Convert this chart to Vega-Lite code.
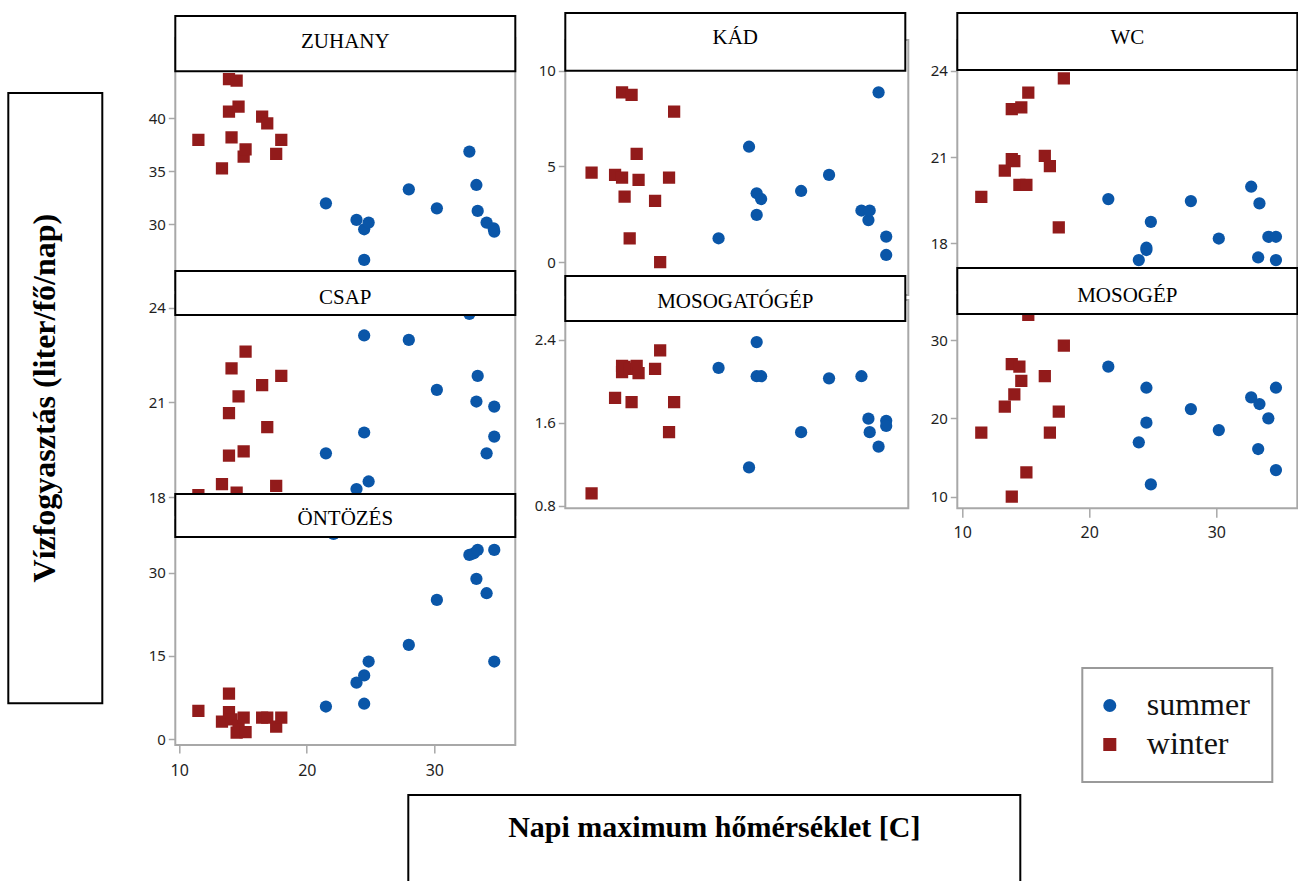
{
  "$schema": "https://vega.github.io/schema/vega-lite/v6.json",
  "background": "white",
  "padding": {"left": 7.3, "top": 12, "right": 0, "bottom": 0},
  "bounds": "flush",
  "spacing": 0,
  "datasets": {
    "pts": [
      {"panel":"ZUHANY","season":"winter","temp":11.5,"value":37.96},
      {"panel":"ZUHANY","season":"winter","temp":13.35,"value":35.28},
      {"panel":"ZUHANY","season":"winter","temp":13.9,"value":43.71},
      {"panel":"ZUHANY","season":"winter","temp":13.9,"value":40.63},
      {"panel":"ZUHANY","season":"winter","temp":14.1,"value":38.21},
      {"panel":"ZUHANY","season":"winter","temp":14.5,"value":43.55},
      {"panel":"ZUHANY","season":"winter","temp":14.65,"value":41.1},
      {"panel":"ZUHANY","season":"winter","temp":15.05,"value":36.38},
      {"panel":"ZUHANY","season":"winter","temp":15.2,"value":37.08},
      {"panel":"ZUHANY","season":"winter","temp":16.5,"value":40.16},
      {"panel":"ZUHANY","season":"winter","temp":16.9,"value":39.53},
      {"panel":"ZUHANY","season":"winter","temp":17.6,"value":36.64},
      {"panel":"ZUHANY","season":"winter","temp":18.0,"value":37.96},
      {"panel":"ZUHANY","season":"summer","temp":21.5,"value":31.98},
      {"panel":"ZUHANY","season":"summer","temp":23.9,"value":30.41},
      {"panel":"ZUHANY","season":"summer","temp":24.5,"value":29.53},
      {"panel":"ZUHANY","season":"summer","temp":24.5,"value":26.64},
      {"panel":"ZUHANY","season":"summer","temp":24.85,"value":30.16},
      {"panel":"ZUHANY","season":"summer","temp":28.0,"value":33.3},
      {"panel":"ZUHANY","season":"summer","temp":30.2,"value":31.51},
      {"panel":"ZUHANY","season":"summer","temp":32.75,"value":36.86},
      {"panel":"ZUHANY","season":"summer","temp":33.3,"value":33.71},
      {"panel":"ZUHANY","season":"summer","temp":33.4,"value":31.26},
      {"panel":"ZUHANY","season":"summer","temp":34.1,"value":30.16},
      {"panel":"ZUHANY","season":"summer","temp":34.65,"value":29.62},
      {"panel":"ZUHANY","season":"summer","temp":34.7,"value":29.31},

      {"panel":"KÁD","season":"winter","temp":11.5,"value":4.68},
      {"panel":"KÁD","season":"winter","temp":13.35,"value":4.56},
      {"panel":"KÁD","season":"winter","temp":13.9,"value":8.87},
      {"panel":"KÁD","season":"winter","temp":13.9,"value":4.42},
      {"panel":"KÁD","season":"winter","temp":14.1,"value":3.43},
      {"panel":"KÁD","season":"winter","temp":14.5,"value":1.25},
      {"panel":"KÁD","season":"winter","temp":14.65,"value":8.73},
      {"panel":"KÁD","season":"winter","temp":15.05,"value":5.65},
      {"panel":"KÁD","season":"winter","temp":15.2,"value":4.3},
      {"panel":"KÁD","season":"winter","temp":16.5,"value":3.2},
      {"panel":"KÁD","season":"winter","temp":16.9,"value":0.0},
      {"panel":"KÁD","season":"winter","temp":17.6,"value":4.42},
      {"panel":"KÁD","season":"winter","temp":18.0,"value":7.86},
      {"panel":"KÁD","season":"summer","temp":21.5,"value":1.25},
      {"panel":"KÁD","season":"summer","temp":23.9,"value":6.03},
      {"panel":"KÁD","season":"summer","temp":24.5,"value":3.6},
      {"panel":"KÁD","season":"summer","temp":24.5,"value":2.47},
      {"panel":"KÁD","season":"summer","temp":24.85,"value":3.3},
      {"panel":"KÁD","season":"summer","temp":28.0,"value":3.72},
      {"panel":"KÁD","season":"summer","temp":30.2,"value":4.56},
      {"panel":"KÁD","season":"summer","temp":32.75,"value":2.7},
      {"panel":"KÁD","season":"summer","temp":33.3,"value":2.2},
      {"panel":"KÁD","season":"summer","temp":33.4,"value":2.7},
      {"panel":"KÁD","season":"summer","temp":34.1,"value":8.87},
      {"panel":"KÁD","season":"summer","temp":34.7,"value":1.34},
      {"panel":"KÁD","season":"summer","temp":34.7,"value":0.38},

      {"panel":"WC","season":"winter","temp":11.5,"value":19.62},
      {"panel":"WC","season":"winter","temp":13.35,"value":20.53},
      {"panel":"WC","season":"winter","temp":13.9,"value":22.67},
      {"panel":"WC","season":"winter","temp":13.9,"value":20.93},
      {"panel":"WC","season":"winter","temp":14.1,"value":20.86},
      {"panel":"WC","season":"winter","temp":14.5,"value":20.03},
      {"panel":"WC","season":"winter","temp":14.65,"value":22.73},
      {"panel":"WC","season":"winter","temp":15.05,"value":20.03},
      {"panel":"WC","season":"winter","temp":15.2,"value":23.24},
      {"panel":"WC","season":"winter","temp":16.5,"value":21.04},
      {"panel":"WC","season":"winter","temp":16.9,"value":20.69},
      {"panel":"WC","season":"winter","temp":17.6,"value":18.56},
      {"panel":"WC","season":"winter","temp":18.0,"value":23.74},
      {"panel":"WC","season":"summer","temp":21.5,"value":19.54},
      {"panel":"WC","season":"summer","temp":23.9,"value":17.42},
      {"panel":"WC","season":"summer","temp":24.5,"value":17.77},
      {"panel":"WC","season":"summer","temp":24.5,"value":17.85},
      {"panel":"WC","season":"summer","temp":24.85,"value":18.75},
      {"panel":"WC","season":"summer","temp":28.0,"value":19.47},
      {"panel":"WC","season":"summer","temp":30.2,"value":18.17},
      {"panel":"WC","season":"summer","temp":32.75,"value":19.97},
      {"panel":"WC","season":"summer","temp":33.3,"value":17.51},
      {"panel":"WC","season":"summer","temp":33.4,"value":19.39},
      {"panel":"WC","season":"summer","temp":34.1,"value":18.23},
      {"panel":"WC","season":"summer","temp":34.7,"value":18.23},
      {"panel":"WC","season":"summer","temp":34.7,"value":17.42},

      {"panel":"CSAP","season":"winter","temp":11.5,"value":18.07},
      {"panel":"CSAP","season":"winter","temp":13.35,"value":18.42},
      {"panel":"CSAP","season":"winter","temp":13.9,"value":19.32},
      {"panel":"CSAP","season":"winter","temp":13.9,"value":20.66},
      {"panel":"CSAP","season":"winter","temp":14.1,"value":22.08},
      {"panel":"CSAP","season":"winter","temp":14.5,"value":18.15},
      {"panel":"CSAP","season":"winter","temp":14.65,"value":21.19},
      {"panel":"CSAP","season":"winter","temp":15.05,"value":19.45},
      {"panel":"CSAP","season":"winter","temp":15.2,"value":22.61},
      {"panel":"CSAP","season":"winter","temp":16.5,"value":21.55},
      {"panel":"CSAP","season":"winter","temp":16.9,"value":20.22},
      {"panel":"CSAP","season":"winter","temp":17.6,"value":18.36},
      {"panel":"CSAP","season":"winter","temp":18.0,"value":21.84},
      {"panel":"CSAP","season":"summer","temp":21.5,"value":19.39},
      {"panel":"CSAP","season":"summer","temp":23.9,"value":18.26},
      {"panel":"CSAP","season":"summer","temp":24.5,"value":23.12},
      {"panel":"CSAP","season":"summer","temp":24.5,"value":20.05},
      {"panel":"CSAP","season":"summer","temp":24.85,"value":18.5},
      {"panel":"CSAP","season":"summer","temp":28.0,"value":22.98},
      {"panel":"CSAP","season":"summer","temp":30.2,"value":21.4},
      {"panel":"CSAP","season":"summer","temp":32.75,"value":23.8},
      {"panel":"CSAP","season":"summer","temp":33.3,"value":21.03},
      {"panel":"CSAP","season":"summer","temp":33.4,"value":21.84},
      {"panel":"CSAP","season":"summer","temp":34.1,"value":19.39},
      {"panel":"CSAP","season":"summer","temp":34.7,"value":20.87},
      {"panel":"CSAP","season":"summer","temp":34.7,"value":19.92},

      {"panel":"MOSOGATÓGÉP","season":"winter","temp":11.5,"value":0.92},
      {"panel":"MOSOGATÓGÉP","season":"winter","temp":13.35,"value":1.84},
      {"panel":"MOSOGATÓGÉP","season":"winter","temp":13.9,"value":2.09},
      {"panel":"MOSOGATÓGÉP","season":"winter","temp":13.9,"value":2.15},
      {"panel":"MOSOGATÓGÉP","season":"winter","temp":14.1,"value":2.14},
      {"panel":"MOSOGATÓGÉP","season":"winter","temp":14.5,"value":2.12},
      {"panel":"MOSOGATÓGÉP","season":"winter","temp":14.65,"value":1.8},
      {"panel":"MOSOGATÓGÉP","season":"winter","temp":15.05,"value":2.15},
      {"panel":"MOSOGATÓGÉP","season":"winter","temp":15.2,"value":2.08},
      {"panel":"MOSOGATÓGÉP","season":"winter","temp":16.5,"value":2.12},
      {"panel":"MOSOGATÓGÉP","season":"winter","temp":16.9,"value":2.3},
      {"panel":"MOSOGATÓGÉP","season":"winter","temp":17.6,"value":1.51},
      {"panel":"MOSOGATÓGÉP","season":"winter","temp":18.0,"value":1.8},
      {"panel":"MOSOGATÓGÉP","season":"summer","temp":21.5,"value":2.13},
      {"panel":"MOSOGATÓGÉP","season":"summer","temp":23.9,"value":1.17},
      {"panel":"MOSOGATÓGÉP","season":"summer","temp":24.5,"value":2.38},
      {"panel":"MOSOGATÓGÉP","season":"summer","temp":24.5,"value":2.05},
      {"panel":"MOSOGATÓGÉP","season":"summer","temp":24.85,"value":2.05},
      {"panel":"MOSOGATÓGÉP","season":"summer","temp":28.0,"value":1.51},
      {"panel":"MOSOGATÓGÉP","season":"summer","temp":30.2,"value":2.03},
      {"panel":"MOSOGATÓGÉP","season":"summer","temp":32.75,"value":2.05},
      {"panel":"MOSOGATÓGÉP","season":"summer","temp":33.3,"value":1.64},
      {"panel":"MOSOGATÓGÉP","season":"summer","temp":33.4,"value":1.51},
      {"panel":"MOSOGATÓGÉP","season":"summer","temp":34.1,"value":1.37},
      {"panel":"MOSOGATÓGÉP","season":"summer","temp":34.7,"value":1.62},
      {"panel":"MOSOGATÓGÉP","season":"summer","temp":34.7,"value":1.57},

      {"panel":"MOSOGÉP","season":"winter","temp":11.5,"value":18.17},
      {"panel":"MOSOGÉP","season":"winter","temp":13.35,"value":21.49},
      {"panel":"MOSOGÉP","season":"winter","temp":13.9,"value":26.94},
      {"panel":"MOSOGÉP","season":"winter","temp":13.9,"value":10.0},
      {"panel":"MOSOGÉP","season":"winter","temp":14.1,"value":23.06},
      {"panel":"MOSOGÉP","season":"winter","temp":14.5,"value":26.6},
      {"panel":"MOSOGÉP","season":"winter","temp":14.65,"value":24.8},
      {"panel":"MOSOGÉP","season":"winter","temp":15.05,"value":13.1},
      {"panel":"MOSOGÉP","season":"winter","temp":15.2,"value":33.2},
      {"panel":"MOSOGÉP","season":"winter","temp":16.5,"value":25.4},
      {"panel":"MOSOGÉP","season":"winter","temp":16.9,"value":18.17},
      {"panel":"MOSOGÉP","season":"winter","temp":17.6,"value":20.85},
      {"panel":"MOSOGÉP","season":"winter","temp":18.0,"value":29.28},
      {"panel":"MOSOGÉP","season":"summer","temp":21.5,"value":26.6},
      {"panel":"MOSOGÉP","season":"summer","temp":23.9,"value":16.94},
      {"panel":"MOSOGÉP","season":"summer","temp":24.5,"value":23.91},
      {"panel":"MOSOGÉP","season":"summer","temp":24.5,"value":19.45},
      {"panel":"MOSOGÉP","season":"summer","temp":24.85,"value":11.57},
      {"panel":"MOSOGÉP","season":"summer","temp":28.0,"value":21.19},
      {"panel":"MOSOGÉP","season":"summer","temp":30.2,"value":18.51},
      {"panel":"MOSOGÉP","season":"summer","temp":32.75,"value":22.68},
      {"panel":"MOSOGÉP","season":"summer","temp":33.3,"value":16.09},
      {"panel":"MOSOGÉP","season":"summer","temp":33.4,"value":21.83},
      {"panel":"MOSOGÉP","season":"summer","temp":34.1,"value":20.0},
      {"panel":"MOSOGÉP","season":"summer","temp":34.7,"value":23.91},
      {"panel":"MOSOGÉP","season":"summer","temp":34.7,"value":13.4},

      {"panel":"ÖNTÖZÉS","season":"winter","temp":11.5,"value":5.1},
      {"panel":"ÖNTÖZÉS","season":"winter","temp":13.35,"value":3.2},
      {"panel":"ÖNTÖZÉS","season":"winter","temp":13.9,"value":8.2},
      {"panel":"ÖNTÖZÉS","season":"winter","temp":13.9,"value":4.9},
      {"panel":"ÖNTÖZÉS","season":"winter","temp":14.1,"value":3.6},
      {"panel":"ÖNTÖZÉS","season":"winter","temp":14.5,"value":1.2},
      {"panel":"ÖNTÖZÉS","season":"winter","temp":14.65,"value":2.4},
      {"panel":"ÖNTÖZÉS","season":"winter","temp":15.05,"value":3.9},
      {"panel":"ÖNTÖZÉS","season":"winter","temp":15.2,"value":1.3},
      {"panel":"ÖNTÖZÉS","season":"winter","temp":16.5,"value":3.9},
      {"panel":"ÖNTÖZÉS","season":"winter","temp":16.9,"value":3.9},
      {"panel":"ÖNTÖZÉS","season":"winter","temp":17.6,"value":2.3},
      {"panel":"ÖNTÖZÉS","season":"winter","temp":18.0,"value":3.9},
      {"panel":"ÖNTÖZÉS","season":"summer","temp":21.5,"value":5.9},
      {"panel":"ÖNTÖZÉS","season":"summer","temp":22.1,"value":37.0},
      {"panel":"ÖNTÖZÉS","season":"summer","temp":23.9,"value":10.2},
      {"panel":"ÖNTÖZÉS","season":"summer","temp":24.5,"value":11.5},
      {"panel":"ÖNTÖZÉS","season":"summer","temp":24.5,"value":6.4},
      {"panel":"ÖNTÖZÉS","season":"summer","temp":24.85,"value":14.0},
      {"panel":"ÖNTÖZÉS","season":"summer","temp":28.0,"value":17.0},
      {"panel":"ÖNTÖZÉS","season":"summer","temp":30.2,"value":25.1},
      {"panel":"ÖNTÖZÉS","season":"summer","temp":32.75,"value":33.2},
      {"panel":"ÖNTÖZÉS","season":"summer","temp":33.1,"value":33.5},
      {"panel":"ÖNTÖZÉS","season":"summer","temp":33.3,"value":28.9},
      {"panel":"ÖNTÖZÉS","season":"summer","temp":33.4,"value":34.1},
      {"panel":"ÖNTÖZÉS","season":"summer","temp":34.1,"value":26.3},
      {"panel":"ÖNTÖZÉS","season":"summer","temp":34.7,"value":34.1},
      {"panel":"ÖNTÖZÉS","season":"summer","temp":34.7,"value":14.0}
    ]
  },
  "vconcat": [
    {
      "bounds": "flush", "spacing": 0,
      "hconcat": [
        {"width": 166.7, "height": 1, "data": {"values": []}, "mark": "text"},
        {
          "bounds": "flush", "spacing": 0,
          "vconcat": [
            {"width": 1, "height": 25, "data": {"values": []}, "mark": "text"},
            {
              "width": 340, "height": 252, "view": {"stroke": "#a8a8a8", "strokeWidth": 2},
              "data": {"name": "pts"}, "transform": [{"filter": "datum.panel === 'ZUHANY'"}],
              "mark": {"type": "point", "filled": true, "opacity": 1, "size": 150, "clip": true},
              "encoding": {
                "x": {"field": "temp", "type": "quantitative", "scale": {"domain": [9.69, 36.35], "nice": false, "zero": false}, "axis": null},
                "y": {"field": "value", "type": "quantitative", "scale": {"domain": [23.8, 47.58], "nice": false, "zero": false}, "axis": {"values": [30, 35, 40]}},
                "color": {"field": "season", "type": "nominal", "scale": {"domain": ["summer", "winter"], "range": ["#0a56a8", "#921b1b"]}, "legend": {"title": null}},
                "shape": {"field": "season", "type": "nominal", "scale": {"domain": ["summer", "winter"], "range": ["circle", "square"]}, "legend": {"title": null}}
              }
            },
            {"width": 1, "height": 5, "data": {"values": []}, "mark": "text"},
            {
              "width": 340, "height": 220, "view": {"stroke": "#a8a8a8", "strokeWidth": 2},
              "data": {"name": "pts"}, "transform": [{"filter": "datum.panel === 'CSAP'"}],
              "mark": {"type": "point", "filled": true, "opacity": 1, "size": 150, "clip": true},
              "encoding": {
                "x": {"field": "temp", "type": "quantitative", "scale": {"domain": [9.69, 36.35], "nice": false, "zero": false}, "axis": null},
                "y": {"field": "value", "type": "quantitative", "scale": {"domain": [17.44, 24.4], "nice": false, "zero": false}, "axis": {"values": [18, 21, 24]}},
                "color": {"field": "season", "type": "nominal", "scale": {"domain": ["summer", "winter"], "range": ["#0a56a8", "#921b1b"]}, "legend": {"title": null}},
                "shape": {"field": "season", "type": "nominal", "scale": {"domain": ["summer", "winter"], "range": ["circle", "square"]}, "legend": {"title": null}}
              }
            },
            {"width": 1, "height": 5, "data": {"values": []}, "mark": "text"},
            {
              "width": 340, "height": 225, "view": {"stroke": "#a8a8a8", "strokeWidth": 2},
              "data": {"name": "pts"}, "transform": [{"filter": "datum.panel === 'ÖNTÖZÉS'"}],
              "mark": {"type": "point", "filled": true, "opacity": 1, "size": 150, "clip": true},
              "encoding": {
                "x": {"field": "temp", "type": "quantitative", "scale": {"domain": [9.69, 36.35], "nice": false, "zero": false}, "axis": {"values": [10, 20, 30], "tickSize": 8, "labelPadding": 10, "labelFontSize": 16}},
                "y": {"field": "value", "type": "quantitative", "scale": {"domain": [-1.03, 39.49], "nice": false, "zero": false}, "axis": {"values": [0, 15, 30]}},
                "color": {"field": "season", "type": "nominal", "scale": {"domain": ["summer", "winter"], "range": ["#0a56a8", "#921b1b"]}, "legend": {"title": null}},
                "shape": {"field": "season", "type": "nominal", "scale": {"domain": ["summer", "winter"], "range": ["circle", "square"]}, "legend": {"title": null}}
              }
            }
          ]
        },
        {"width": 390, "height": 1, "data": {"values": []}, "mark": "text"},
        {
          "bounds": "flush", "spacing": 0,
          "vconcat": [
            {"width": 1, "height": 27, "data": {"values": []}, "mark": "text"},
            {
              "width": 343, "height": 255, "view": {"stroke": "#a8a8a8", "strokeWidth": 2},
              "data": {"name": "pts"}, "transform": [{"filter": "datum.panel === 'KÁD'"}],
              "mark": {"type": "point", "filled": true, "opacity": 1, "size": 150, "clip": true},
              "encoding": {
                "x": {"field": "temp", "type": "quantitative", "scale": {"domain": [9.43, 36.44], "nice": false, "zero": false}, "axis": null},
                "y": {"field": "value", "type": "quantitative", "scale": {"domain": [-1.71, 11.6], "nice": false, "zero": false}, "axis": {"values": [0, 5, 10]}},
                "color": {"field": "season", "type": "nominal", "scale": {"domain": ["summer", "winter"], "range": ["#0a56a8", "#921b1b"]}, "legend": {"title": null}},
                "shape": {"field": "season", "type": "nominal", "scale": {"domain": ["summer", "winter"], "range": ["circle", "square"]}, "legend": {"title": null}}
              }
            },
            {"width": 1, "height": 5, "data": {"values": []}, "mark": "text"},
            {
              "width": 343, "height": 208.3, "view": {"stroke": "#a8a8a8", "strokeWidth": 2},
              "data": {"name": "pts"}, "transform": [{"filter": "datum.panel === 'MOSOGATÓGÉP'"}],
              "mark": {"type": "point", "filled": true, "opacity": 1, "size": 150, "clip": true},
              "encoding": {
                "x": {"field": "temp", "type": "quantitative", "scale": {"domain": [9.43, 36.44], "nice": false, "zero": false}, "axis": null},
                "y": {"field": "value", "type": "quantitative", "scale": {"domain": [0.775, 2.786], "nice": false, "zero": false}, "axis": {"values": [0.8, 1.6, 2.4], "format": ".1f"}},
                "color": {"field": "season", "type": "nominal", "scale": {"domain": ["summer", "winter"], "range": ["#0a56a8", "#921b1b"]}, "legend": {"title": null}},
                "shape": {"field": "season", "type": "nominal", "scale": {"domain": ["summer", "winter"], "range": ["circle", "square"]}, "legend": {"title": null}}
              }
            }
          ]
        },
        {"width": 392, "height": 1, "data": {"values": []}, "mark": "text"},
        {
          "bounds": "flush", "spacing": 0,
          "vconcat": [
            {"width": 1, "height": 27, "data": {"values": []}, "mark": "text"},
            {
              "width": 340, "height": 250, "view": {"stroke": "#a8a8a8", "strokeWidth": 2},
              "data": {"name": "pts"}, "transform": [{"filter": "datum.panel === 'WC'"}],
              "mark": {"type": "point", "filled": true, "opacity": 1, "size": 150, "clip": true},
              "encoding": {
                "x": {"field": "temp", "type": "quantitative", "scale": {"domain": [9.61, 36.38], "nice": false, "zero": false}, "axis": null},
                "y": {"field": "value", "type": "quantitative", "scale": {"domain": [16.38, 25.07], "nice": false, "zero": false}, "axis": {"values": [18, 21, 24]}},
                "color": {"field": "season", "type": "nominal", "scale": {"domain": ["summer", "winter"], "range": ["#0a56a8", "#921b1b"]}, "legend": {"title": null}},
                "shape": {"field": "season", "type": "nominal", "scale": {"domain": ["summer", "winter"], "range": ["circle", "square"]}, "legend": {"title": null}}
              }
            },
            {"width": 1, "height": 5, "data": {"values": []}, "mark": "text"},
            {
              "width": 340, "height": 213.3, "view": {"stroke": "#a8a8a8", "strokeWidth": 2},
              "data": {"name": "pts"}, "transform": [{"filter": "datum.panel === 'MOSOGÉP'"}],
              "mark": {"type": "point", "filled": true, "opacity": 1, "size": 150, "clip": true},
              "encoding": {
                "x": {"field": "temp", "type": "quantitative", "scale": {"domain": [9.61, 36.38], "nice": false, "zero": false}, "axis": {"values": [10, 20, 30], "tickSize": 9, "labelPadding": 7, "labelFontSize": 16}},
                "y": {"field": "value", "type": "quantitative", "scale": {"domain": [8.52, 35.75], "nice": false, "zero": false}, "axis": {"values": [10, 20, 30]}},
                "color": {"field": "season", "type": "nominal", "scale": {"domain": ["summer", "winter"], "range": ["#0a56a8", "#921b1b"]}, "legend": {"title": null}},
                "shape": {"field": "season", "type": "nominal", "scale": {"domain": ["summer", "winter"], "range": ["circle", "square"]}, "legend": {"title": null}}
              }
            }
          ]
        }
      ]
    },
    {
      "bounds": "flush", "spacing": 0,
      "hconcat": [
        {"width": 166.7, "height": 1, "data": {"values": []}, "mark": "text"},
        {
          "bounds": "flush", "spacing": 0,
          "vconcat": [
            {"width": 1, "height": 2.7, "data": {"values": []}, "mark": "text"},
            {"width": 340, "height": 55.3, "data": {"values": [{"panel": "ZUHANY"}]}, "view": {"stroke": "black", "strokeWidth": 2, "fill": "white"},
             "mark": {"type": "text", "font": "Liberation Serif", "fontSize": 21, "baseline": "middle", "dy": -2, "color": "black"}, "encoding": {"text": {"field": "panel"}}},
            {"width": 1, "height": 199, "data": {"values": []}, "mark": "text"},
            {"width": 340, "height": 44, "data": {"values": [{"panel": "CSAP"}]}, "view": {"stroke": "black", "strokeWidth": 2, "fill": "white"},
             "mark": {"type": "text", "font": "Liberation Serif", "fontSize": 21, "baseline": "middle", "dy": 5, "color": "black"}, "encoding": {"text": {"field": "panel"}}},
            {"width": 1, "height": 179, "data": {"values": []}, "mark": "text"},
            {"width": 340, "height": 43, "data": {"values": [{"panel": "ÖNTÖZÉS"}]}, "view": {"stroke": "black", "strokeWidth": 2, "fill": "white"},
             "mark": {"type": "text", "font": "Liberation Serif", "fontSize": 21, "baseline": "middle", "dy": 4, "color": "black"}, "encoding": {"text": {"field": "panel"}}}
          ]
        },
        {"width": 390, "height": 1, "data": {"values": []}, "mark": "text"},
        {
          "bounds": "flush", "spacing": 0,
          "vconcat": [
            {"width": 340, "height": 57.7, "data": {"values": [{"panel": "KÁD"}]}, "view": {"stroke": "black", "strokeWidth": 2, "fill": "white"},
             "mark": {"type": "text", "font": "Liberation Serif", "fontSize": 21, "baseline": "middle", "dy": -4, "color": "black"}, "encoding": {"text": {"field": "panel"}}},
            {"width": 1, "height": 204.3, "data": {"values": []}, "mark": "text"},
            {"width": 340, "height": 45, "data": {"values": [{"panel": "MOSOGATÓGÉP"}]}, "view": {"stroke": "black", "strokeWidth": 2, "fill": "white"},
             "mark": {"type": "text", "font": "Liberation Serif", "fontSize": 21, "baseline": "middle", "dy": 3, "color": "black"}, "encoding": {"text": {"field": "panel"}}}
          ]
        },
        {"width": 392, "height": 1, "data": {"values": []}, "mark": "text"},
        {
          "bounds": "flush", "spacing": 0,
          "vconcat": [
            {"width": 340, "height": 57, "data": {"values": [{"panel": "WC"}]}, "view": {"stroke": "black", "strokeWidth": 2, "fill": "white"},
             "mark": {"type": "text", "font": "Liberation Serif", "fontSize": 21, "baseline": "middle", "dy": -4, "color": "black"}, "encoding": {"text": {"field": "panel"}}},
            {"width": 1, "height": 198, "data": {"values": []}, "mark": "text"},
            {"width": 340, "height": 46, "data": {"values": [{"panel": "MOSOGÉP"}]}, "view": {"stroke": "black", "strokeWidth": 2, "fill": "white"},
             "mark": {"type": "text", "font": "Liberation Serif", "fontSize": 21, "baseline": "middle", "dy": 5, "color": "black"}, "encoding": {"text": {"field": "panel"}}}
          ]
        }
      ]
    },
    {
      "bounds": "flush", "spacing": 0,
      "vconcat": [
        {"width": 1, "height": 79.7, "data": {"values": []}, "mark": "text"},
        {"width": 94, "height": 610.3, "data": {"values": [{"t": "Vízfogyasztás (liter/fő/nap)"}]},
         "view": {"stroke": "black", "strokeWidth": 2, "fill": "white"},
         "mark": {"type": "text", "angle": 270, "font": "Liberation Serif", "fontWeight": "bold", "fontSize": 32, "baseline": "middle", "align": "center", "dy": -10, "color": "black"},
         "encoding": {"text": {"field": "t"}}}
      ]
    },
    {
      "bounds": "flush", "spacing": 0,
      "vconcat": [
        {"width": 1, "height": 782, "data": {"values": []}, "mark": "text"},
        {
          "bounds": "flush", "spacing": 0,
          "hconcat": [
            {"width": 399.7, "height": 1, "data": {"values": []}, "mark": "text"},
            {"width": 612, "height": 100, "data": {"values": [{"t": "Napi maximum hőmérséklet [C]"}]},
             "view": {"stroke": "black", "strokeWidth": 2, "fill": "white"},
             "mark": {"type": "text", "font": "Liberation Serif", "fontWeight": "bold", "fontSize": 30, "baseline": "middle", "align": "center", "dy": -17, "color": "black"},
             "encoding": {"text": {"field": "t"}}}
          ]
        }
      ]
    }
  ],
  "config": {
    "view": {"stroke": null},
    "axis": {"grid": false, "title": null, "domain": false, "tickColor": "#a8a8a8", "tickWidth": 1.5, "tickSize": 7, "labelPadding": 3, "labelFont": "Noto Sans", "labelFontSize": 15, "labelColor": "#1e1e1e"},
    "legend": {
      "orient": "none", "legendX": 1074, "legendY": 655,
      "padding": 21.5, "labelFont": "Liberation Serif", "labelFontSize": 32, "labelColor": "#111111",
      "labelOffset": 21, "symbolOffset": -10, "symbolSize": 170, "rowPadding": 7, "symbolStrokeWidth": 0,
      "strokeColor": "#9a9a9a", "strokeWidth": 2, "fillColor": "white"
    }
  }
}
